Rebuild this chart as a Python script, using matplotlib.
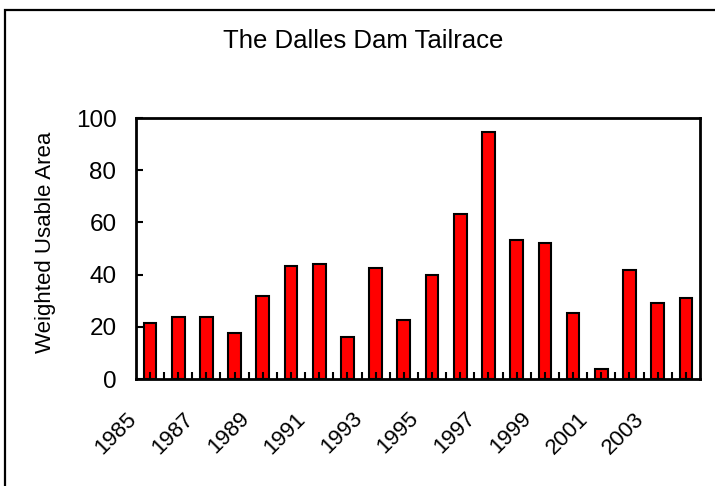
import numpy as np
import matplotlib.pyplot as plt
import matplotlib.transforms as mtransforms
from matplotlib.patches import Rectangle

plt.rcParams['font.family'] = ['Liberation Sans', 'DejaVu Sans']

# Data
years = list(range(1985, 2005))
wua = [21.3, 23.7, 23.7, 17.6, 32.0, 43.4, 44.2, 16.1, 42.7, 22.8,
       39.7, 63.3, 94.6, 53.4, 52.0, 25.2, 3.8, 41.9, 29.0, 31.2]
label_years = [y for y in years if y % 2 == 1]

fig = plt.figure(figsize=(7.15, 4.86), dpi=100)
ax = fig.add_axes([0.190, 0.220, 0.789, 0.537])

x = np.arange(len(years))
ax.bar(x, wua, width=0.45, color='#ff0000', edgecolor='black', linewidth=1.5)

ax.set_xlim(-0.5, len(years) - 0.5)
ax.set_ylim(0, 100)
ax.set_yticks([0, 20, 40, 60, 80, 100])

# x ticks at every bar plus between bars, labels on odd years only
ax.set_xticks(x)
ax.set_xticks(x[:-1] + 0.5, minor=True)
ax.set_xticklabels([str(y) if y in label_years else '' for y in years],
                   rotation=45, ha='right', fontsize=16)

ax.tick_params(axis='x', which='both', direction='in', length=5, width=1.5, pad=21)
ax.tick_params(axis='y', direction='in', length=5, width=1.5, labelsize=17.5, pad=14)

# shift the rotated labels left (after tick_params, which resets transforms)
offset = mtransforms.ScaledTranslation(-0.09, 0, fig.dpi_scale_trans)
for lab in ax.get_xticklabels():
    lab.set_transform(lab.get_transform() + offset)

for s in ax.spines.values():
    s.set_linewidth(2)

fig.text(0.064, 0.502, 'Weighted Usable Area', rotation=90,
         ha='center', va='center', fontsize=16)
fig.text(0.508, 0.915, 'The Dalles Dam Tailrace', ha='center', va='center', fontsize=18.5)

# outer border (runs off the right and bottom edges)
fig.patches.append(Rectangle((5 / 715, -0.05), 1.1, 1.05 - 10 / 486,
                             transform=fig.transFigure, fill=False,
                             edgecolor='black', linewidth=1.6))

fig.savefig('out.png', dpi=100)
